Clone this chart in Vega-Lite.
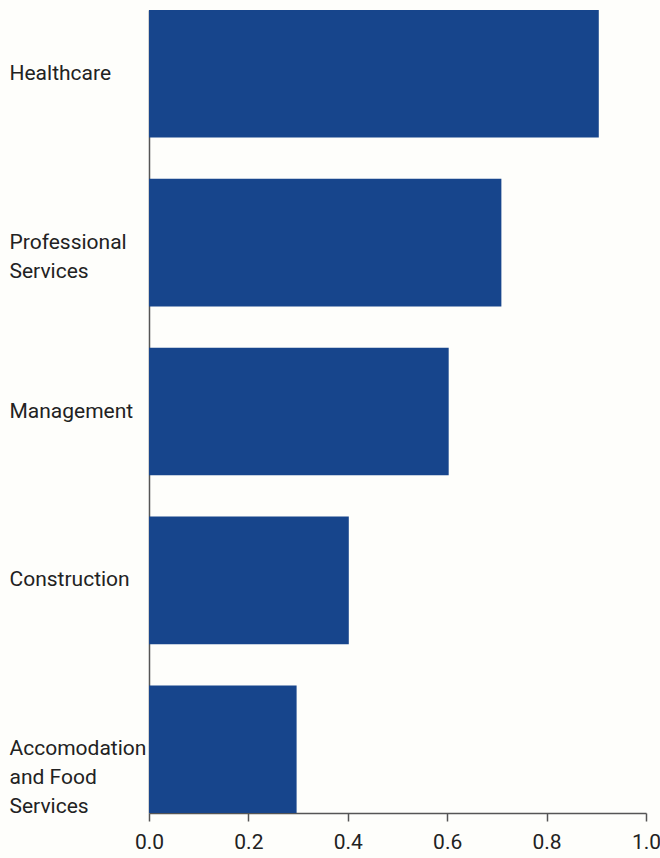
{
  "$schema": "https://vega.github.io/schema/vega-lite/v6.json",
  "autosize": {"type": "none"},
  "width": 497,
  "height": 803,
  "padding": {"left": 149, "top": 10, "right": 14, "bottom": 45},
  "background": "#fefefb",
  "data": {
    "values": [
      {"industry": "Healthcare", "value": 0.905},
      {"industry": "Professional Services", "value": 0.709},
      {"industry": "Management", "value": 0.603},
      {"industry": "Construction", "value": 0.402},
      {"industry": "Accomodation and Food Services", "value": 0.297}
    ]
  },
  "mark": {"type": "bar", "color": "#17458c"},
  "encoding": {
    "y": {
      "field": "industry",
      "type": "nominal",
      "sort": null,
      "scale": {"paddingInner": 0.245, "paddingOuter": 0},
      "axis": {
        "title": null,
        "ticks": false,
        "tickSize": 0,
        "domain": true,
        "domainColor": "#555555",
        "domainWidth": 1.5,
        "labelAlign": "left",
        "labelBaseline": "middle",
        "labelPadding": 140,
        "labelFont": "Roboto",
        "labelFontSize": 21,
        "labelColor": "#222222",
        "labelLineHeight": 29,
        "labelLimit": 200,
        "labelExpr": "datum.label == 'Professional Services' ? ['Professional', 'Services'] : datum.label == 'Accomodation and Food Services' ? ['Accomodation', 'and Food', 'Services'] : datum.label"
      }
    },
    "x": {
      "field": "value",
      "type": "quantitative",
      "scale": {"domain": [0, 1], "nice": false, "zero": true},
      "axis": {
        "title": null,
        "values": [0, 0.2, 0.4, 0.6, 0.8, 1.0],
        "format": ".1f",
        "grid": false,
        "domainColor": "#555555",
        "domainWidth": 1.5,
        "tickColor": "#555555",
        "tickWidth": 1.5,
        "tickSize": 8,
        "labelPadding": 10,
        "labelFont": "Roboto",
        "labelFontSize": 21,
        "labelColor": "#222222",
        "labelFlush": false,
        "labelOverlap": false
      }
    }
  },
  "config": {"view": {"stroke": null}}
}
